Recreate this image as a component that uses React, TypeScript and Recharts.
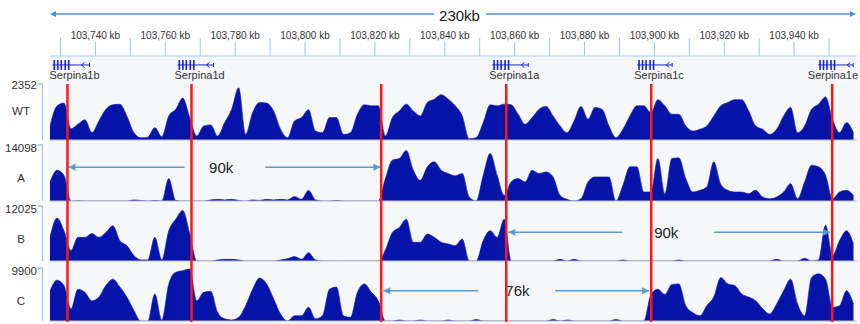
import React from 'react';
import {
  AreaChart,
  Area,
  ComposedChart,
  LineChart,
  Line,
  XAxis,
  YAxis,
  ReferenceLine,
  ReferenceDot,
} from 'recharts';

// genomic bins (kb), 2kb apart
const positions = [
  103727, 103729, 103731, 103733, 103735, 103737, 103739, 103741, 103743, 103745,
  103747, 103749, 103751, 103753, 103755, 103757, 103759, 103761, 103763, 103765,
  103767, 103769, 103771, 103773, 103775, 103777, 103779, 103781, 103783, 103785,
  103787, 103789, 103791, 103793, 103795, 103797, 103799, 103801, 103803, 103805,
  103807, 103809, 103811, 103813, 103815, 103817, 103819, 103821, 103823, 103825,
  103827, 103829, 103831, 103833, 103835, 103837, 103839, 103841, 103843, 103845,
  103847, 103849, 103851, 103853, 103855, 103857, 103859, 103861, 103863, 103865,
  103867, 103869, 103871, 103873, 103875, 103877, 103879, 103881, 103883, 103885,
  103887, 103889, 103891, 103893, 103895, 103897, 103899, 103901, 103903, 103905,
  103907, 103909, 103911, 103913, 103915, 103917, 103919, 103921, 103923, 103925,
  103927, 103929, 103931, 103933, 103935, 103937, 103939, 103941, 103943, 103945,
  103947, 103949, 103951, 103953, 103955, 103957,
];

const wtValues = [
  590, 1430, 1550, 470, 660, 850, 310, 800, 1290, 1480,
  1500, 1010, 310, 95, 120, 520, 140, 1010, 1290, 1760,
  940, 165, 590, 635, 165, 730, 1290, 2190, 235, 1150,
  1575, 1550, 1220, 450, 95, 800, 940, 1270, 375, 305,
  940, 940, 235, 305, 1080, 1480, 1435, 1435, 165, 940,
  1220, 1505, 1220, 1010, 1575, 1715, 1905, 1715, 1435, 1010,
  50, 95, 730, 1480, 1435, 1505, 1480, 1080, 660, 940,
  1290, 1410, 1010, 590, 305, 800, 1410, 870, 1365, 1290,
  590, 95, 450, 1010, 1435, 1435, 1150, 1695, 1435, 1080,
  1080, 590, 375, 450, 590, 1010, 1435, 1575, 1695, 1695,
  1220, 590, 450, 235, 450, 1010, 1365, 305, 590, 1290,
  1505, 1810, 870, 305, 730, 305,
];

const aValues = [
  4790, 7750, 6490, 0, 80, 0, 0, 0, 0, 0,
  0, 0, 280, 140, 0, 140, 0, 5640, 140, 0,
  0, 0, 0, 280, 420, 280, 420, 140, 0, 280,
  140, 420, 280, 420, 280, 1130, 420, 2680, 280, 0,
  0, 140, 0, 0, 0, 0, 0, 0, 5640, 10290,
  10710, 12690, 7750, 5220, 8600, 9870, 7750, 6910, 6340, 6910,
  990, 0, 6490, 11980, 6490, 1410, 4790, 5640, 4790, 7750,
  6910, 7330, 6060, 1410, 420, 0, 560, 4790, 6060, 6060,
  6060, 0, 3950, 8600, 8600, 2260, 2260, 10710, 1830, 10710,
  10860, 5640, 2260, 2680, 3520, 9870, 4230, 2680, 2260, 2260,
  1830, 2680, 990, 560, 990, 2260, 4370, 560, 4790, 9020,
  8600, 6490, 560, 2260, 2680, 1410,
];

const bValues = [
  5170, 9380, 6610, 2280, 5170, 5170, 6010, 5170, 6250, 7700,
  4450, 3370, 1200, 240, 240, 5170, 240, 6610, 9140, 11060,
  6010, 0, 0, 0, 240, 360, 360, 240, 0, 0,
  0, 0, 0, 240, 480, 960, 360, 1800, 240, 0,
  0, 0, 0, 0, 0, 0, 0, 0, 2400, 6250,
  7340, 9140, 4090, 4090, 5890, 5170, 4090, 3730, 3370, 4810,
  0, 0, 4450, 6610, 5170, 9140, 0, 0, 0, 0,
  0, 0, 0, 360, 0, 360, 0, 0, 0, 0,
  0, 0, 240, 0, 0, 0, 0, 0, 0, 0,
  240, 0, 0, 0, 0, 0, 0, 0, 0, 0,
  0, 0, 0, 0, 360, 0, 0, 0, 600, 0,
  240, 7820, 1200, 4450, 6610, 3730,
];

const cValues = [
  5640, 7620, 6630, 2280, 5940, 5350, 3760, 4460, 6630, 7820,
  6340, 4460, 1980, 0, 0, 5050, 200, 6930, 9110, 9400,
  9700, 3760, 5350, 5540, 1580, 400, 200, 690, 2870, 5940,
  8020, 6930, 4160, 1290, 0, 990, 990, 2570, 400, 990,
  5940, 6340, 990, 690, 5350, 6930, 5350, 3760, 0, 0,
  200, 0, 0, 200, 0, 0, 0, 200, 0, 0,
  0, 300, 0, 0, 0, 0, 0, 0, 0, 0,
  0, 0, 300, 0, 200, 0, 0, 0, 0, 0,
  0, 300, 0, 0, 0, 0, 4950, 5940, 4950, 6830,
  6930, 2870, 1580, 990, 2870, 4460, 8120, 6930, 6630, 5050,
  4460, 3760, 2280, 1290, 3170, 5640, 7820, 3170, 990, 8120,
  8810, 7820, 2570, 2870, 5640, 3170,
];

const trackNames = ['WT', 'A', 'B', 'C'];
const trackMax = [2352, 14098, 12025, 9900];
const trackSeries = [wtValues, aValues, bValues, cValues];

const rulerTicks = [
  103730, 103740, 103750, 103760, 103770, 103780, 103790, 103800, 103810, 103820,
  103830, 103840, 103850, 103860, 103870, 103880, 103890, 103900, 103910, 103920,
  103930, 103940, 103950,
];

const genes = [
  { name: 'Serpina1b', start: 103727.7, end: 103738.3 },
  { name: 'Serpina1d', start: 103763.5, end: 103773.8 },
  { name: 'Serpina1a', start: 103853.6, end: 103863.9 },
  { name: 'Serpina1c', start: 103895.1, end: 103905.1 },
  { name: 'Serpina1e', start: 103946.9, end: 103956.9 },
];

const breakpoints = [103732.0, 103767.5, 103821.8, 103857.6, 103899.1, 103950.9];

// deletion spans: arrow from -> gapFrom, label, gapTo -> to
const spans = [
  { track: 1, from: 103732.3, gapFrom: 103765.5, mid: 103776.0, gapTo: 103788.7, to: 103821.6, level: 8500, label: '90k' },
  { track: 2, from: 103858.2, gapFrom: 103890.8, mid: 103903.4, gapTo: 103917.1, to: 103950.3, level: 6280, label: '90k' },
  { track: 3, from: 103822.4, gapFrom: 103849.6, mid: 103860.8, gapTo: 103871.6, to: 103898.5, level: 5660, label: '76k' },
];

const DOMAIN: [number, number] = [103727, 103958];
const W = 860;
const MARGIN_X = { left: 50, right: 3 };
const trackTops = [84, 145, 206, 268];
const trackHeights = [56, 56, 55, 53];
const numberBaselines = [88.5, 151.5, 212.5, 275];
const nameBaselines = [114.5, 181.5, 242.5, 305];
const GENE_ROW = 0.68;

const FILL = '#0614aa';
const RED = '#ff1616';
const ARROW = '#5b9bd5';
const RULER = '#9fc5e8';
const GENE = '#1b24c8';
const FONT = '"Liberation Sans", Arial, sans-serif';

const arrowShape = (dir: 'left' | 'right') => (p: any) => {
  const { x1, y1, x2 } = p;
  const tip = dir === 'left' ? Math.min(x1, x2) : Math.max(x1, x2);
  const s = dir === 'left' ? 1 : -1;
  return (
    <g>
      <line x1={x1} y1={y1} x2={x2} y2={y1} stroke={ARROW} strokeWidth={1.4} />
      <polygon
        points={`${tip},${y1} ${tip + 7 * s},${y1 - 3.5} ${tip + 7 * s},${y1 + 3.5}`}
        fill={ARROW}
      />
    </g>
  );
};

const geneShape = (name: string) => (p: any) => {
  const { x1, x2, y1 } = p;
  const left = Math.min(x1, x2);
  const right = Math.max(x1, x2);
  const bars = [1, 4.5, 8, 12, 15.5];
  // keep the last label inside the picture
  const nearEdge = left - 3 + 50 > W - 2;
  return (
    <g>
      <line x1={left} x2={right} y1={y1} y2={y1} stroke={GENE} strokeWidth={1} />
      {bars.map((b) => (
        <rect key={b} x={left + b} y={y1 - 5} width={1.6} height={10} fill={GENE} />
      ))}
      <path d={`M${left + 29},${y1} l3,-2.5 M${left + 29},${y1} l3,2.5`} stroke={GENE} fill="none" />
      <line x1={right} x2={right} y1={y1 - 2} y2={y1 + 2} stroke={GENE} />
      <text
        x={nearEdge ? W - 2 : left - 3}
        y={y1 + 14}
        textAnchor={nearEdge ? 'end' : 'start'}
        fontSize={11}
        fill="#333"
      >
        {name}
      </text>
    </g>
  );
};

const RulerTick = (props: any) => {
  const { x, payload } = props;
  const labelled = payload.value % 20 === 0;
  return (
    <g>
      <line x1={x} x2={x} y1={labelled ? 42 : 38} y2={56} stroke={RULER} strokeWidth={1} />
      {labelled && (
        <text x={x} y={39} textAnchor="middle" fontSize={10} fill="#333">
          {payload.value.toLocaleString('en-US')} kb
        </text>
      )}
    </g>
  );
};

const Track: React.FC<{ index: number }> = ({ index }) => {
  const data = positions.map((pos, i) => ({ pos, v: trackSeries[index][i] }));
  const h = trackHeights[index] + 1;
  return (
    <div style={{ position: 'absolute', left: 0, top: trackTops[index], width: W, height: h }}>
      <AreaChart width={W} height={h} data={data} margin={{ top: 0, bottom: 1, ...MARGIN_X }}>
        <XAxis dataKey="pos" type="number" domain={DOMAIN} hide allowDataOverflow />
        <YAxis domain={[0, trackMax[index]]} hide allowDataOverflow />
        <ReferenceLine y={0} stroke="#b9bdc6" strokeWidth={1} />
        <Area
          type="monotone"
          dataKey="v"
          stroke={FILL}
          strokeWidth={0.6}
          fill={FILL}
          fillOpacity={1}
          isAnimationActive={false}
        />
        {spans
          .filter((s) => s.track === index)
          .map((s, k) => [
            <ReferenceLine
              key={`l${k}`}
              segment={[{ x: s.from, y: s.level }, { x: s.gapFrom, y: s.level }]}
              shape={arrowShape('left')}
            />,
            <ReferenceLine
              key={`r${k}`}
              segment={[{ x: s.gapTo, y: s.level }, { x: s.to, y: s.level }]}
              shape={arrowShape('right')}
            />,
            <ReferenceDot
              key={`t${k}`}
              x={s.mid}
              y={s.level}
              r={0}
              fill="none"
              stroke="none"
              label={{ value: s.label, position: 'center', fill: '#222', fontSize: 15 }}
            />,
          ])}
      </AreaChart>
    </div>
  );
};

export default function App() {
  const geneData = genes.map((g) => ({ start: g.start, row: GENE_ROW }));
  return (
    <div
      style={{
        position: 'absolute',
        left: 0,
        top: 0,
        width: W,
        height: 324,
        overflow: 'hidden',
        background: '#fff',
        fontFamily: FONT,
      }}
    >
      <div style={{ position: 'absolute', left: 48, top: 57, width: 812, height: 267, background: '#f6f7f9' }} />

      {/* region span */}
      <svg style={{ position: 'absolute', left: 0, top: 0 }} width={W} height={30}>
        <line x1={52} x2={434} y1={14} y2={14} stroke="#4a90d9" strokeWidth={1.3} />
        <line x1={486} x2={853} y1={14} y2={14} stroke="#4a90d9" strokeWidth={1.3} />
        <polygon points="50,14 56,11 56,17" fill="#4a90d9" />
        <polygon points="856,14 850,11 850,17" fill="#4a90d9" />
        <text x={459.5} y={20.5} textAnchor="middle" fontSize={15} fill="#222">
          230kb
        </text>
      </svg>

      {/* ruler + genes */}
      <div style={{ position: 'absolute', left: 0, top: 0, width: W, height: 84 }}>
        <ComposedChart width={W} height={84} data={geneData} margin={{ top: 0, bottom: 0, ...MARGIN_X }}>
          <XAxis
            type="number"
            dataKey="start"
            domain={DOMAIN}
            ticks={rulerTicks}
            interval={0}
            orientation="top"
            height={56}
            axisLine={{ stroke: RULER }}
            tickLine={false}
            tick={(p: any) => <RulerTick {...p} />}
            allowDataOverflow
          />
          <YAxis hide domain={[0, 1]} />
          <Line dataKey="row" stroke="none" dot={false} isAnimationActive={false} />
          {genes.map((g) => (
            <ReferenceLine
              key={g.name}
              segment={[{ x: g.start, y: GENE_ROW }, { x: g.end, y: GENE_ROW }]}
              shape={geneShape(g.name)}
              ifOverflow="visible"
            />
          ))}
        </ComposedChart>
      </div>

      {/* track labels */}
      <svg style={{ position: 'absolute', left: 0, top: 0 }} width={50} height={324}>
        {trackNames.map((name, i) => (
          <g key={name}>
            <path
              d={`M38,${trackTops[i]} L42.5,${trackTops[i]} L42.5,${trackTops[i] + trackHeights[i]}`}
              stroke={RULER}
              strokeWidth={1.3}
              fill="none"
            />
            <text x={37} y={numberBaselines[i]} textAnchor="end" fontSize={11.5} fill="#333">
              {trackMax[i]}
            </text>
            <text x={21} y={nameBaselines[i]} textAnchor="middle" fontSize={11.5} fill="#333">
              {name}
            </text>
          </g>
        ))}
      </svg>

      {trackNames.map((n, i) => (
        <Track key={n} index={i} />
      ))}

      {/* breakpoints */}
      <div style={{ position: 'absolute', left: 0, top: 84, width: W, height: 238 }}>
        <LineChart
          width={W}
          height={238}
          data={breakpoints.map((pos) => ({ pos, y: 0 }))}
          margin={{ top: 0, bottom: 0, ...MARGIN_X }}
        >
          <XAxis dataKey="pos" type="number" domain={DOMAIN} hide allowDataOverflow />
          <YAxis hide domain={[0, 1]} />
          <Line dataKey="y" stroke="none" dot={false} isAnimationActive={false} />
          {breakpoints.map((b) => (
            <ReferenceLine key={b} x={b} stroke={RED} strokeWidth={2.5} />
          ))}
        </LineChart>
      </div>
    </div>
  );
}
